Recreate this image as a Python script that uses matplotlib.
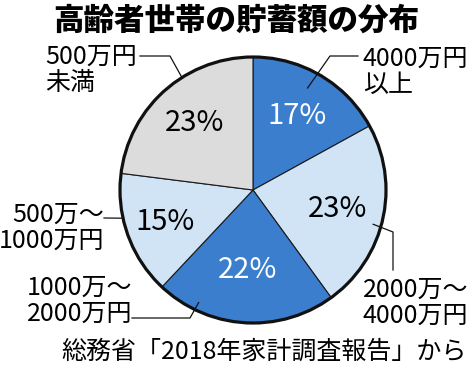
import numpy as np
import matplotlib.pyplot as plt
from matplotlib.patches import Circle

plt.rcParams['font.family'] = ['Noto Sans CJK JP', 'DejaVu Sans']

# data
title = '高齢者世帯の貯蓄額の分布'
source = '総務省「2018年家計調査報告」から'
categories = ['4000万円\n以上', '2000万～\n4000万円', '1000万～\n2000万円',
              '500万～\n1000万円', '500万円\n未満']
shares = [17, 23, 22, 15, 23]
colors = ['#3b7ecd', '#d0e4f6', '#3b7ecd', '#d0e4f6', '#dcdcdc']
pct_colors = ['white', 'black', 'white', 'black', 'black']

W, H = 474, 371
def Y(py):
    return H - py

cx, cy, R = 253, Y(190), 133

fig = plt.figure(figsize=(W / 100, H / 100), dpi=100)
ax = fig.add_axes([0, 0, 1, 1])

wedges, _ = ax.pie(shares, colors=colors, startangle=90, counterclock=False,
                   center=(cx, cy), radius=R,
                   wedgeprops=dict(edgecolor='#1a1a1a', linewidth=0.8))
ax.add_patch(Circle((cx, cy), R, fill=False, edgecolor='#111111', linewidth=2.3, zorder=5))

# percent labels
pct_dist = [0.65, 0.65, 0.6, 0.7, 0.67]
for w, s, c, d in zip(wedges, shares, pct_colors, pct_dist):
    a = np.deg2rad((w.theta1 + w.theta2) / 2)
    ax.text(cx + d * R * np.cos(a), cy + d * R * np.sin(a), f'{s}%',
            ha='center', va='center', fontsize=21, color=c, zorder=6)

# leader lines: anchor (fraction along wedge clockwise, radius fraction), then elbow points in px
anchors = [(0.46, 0.87), (0.54, 0.94), (0.78, 0.94), (0.64, 1.0), (0.61, 1.0)]
elbows = [
    [(330, 56), (358, 56)],
    [(393, 232), (393, 270)],
    [(190, 318), (132, 318)],
    [(104, 218)],
    [(170, 56), (140, 56)],
]
for w, (t, r), pts in zip(wedges, anchors, elbows):
    a = np.deg2rad(w.theta2 - t * (w.theta2 - w.theta1))
    xs = [cx + r * R * np.cos(a)] + [p[0] for p in pts]
    ys = [cy + r * R * np.sin(a)] + [Y(p[1]) for p in pts]
    ax.plot(xs, ys, color='#111111', lw=0.9, zorder=7)

# category labels
label_pos = [(363, 72, 'left'), (363, 303, 'left'), (132, 301, 'right'),
             (104, 228, 'right'), (45, 70, 'left')]
for lab, (x, y, ha) in zip(categories, label_pos):
    ax.text(x, Y(y), lab, ha=ha, va='center', fontsize=18, linespacing=0.98)

ax.text(236, Y(20), title, ha='center', va='center', fontsize=22, fontweight='heavy')
ax.text(467, Y(352), source, ha='right', va='center', fontsize=18)

ax.set_xlim(0, W)
ax.set_ylim(0, H)
ax.set_aspect('equal')
ax.axis('off')

fig.savefig('out.png', dpi=100)
